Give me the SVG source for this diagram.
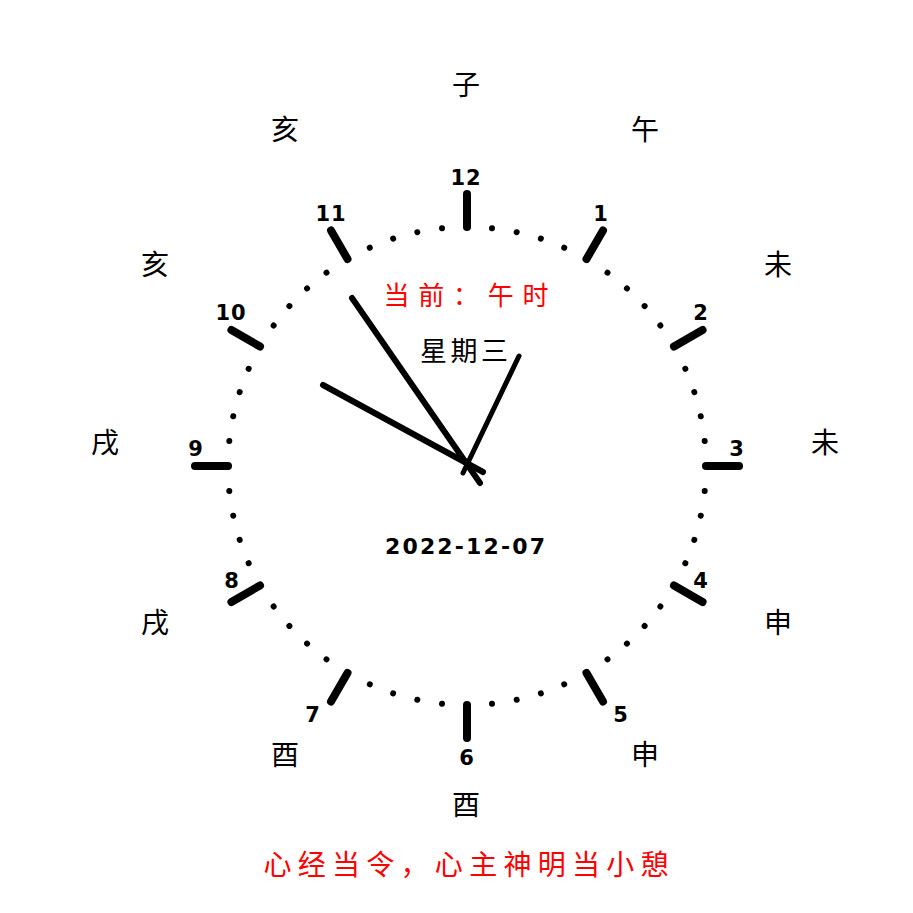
<svg xmlns="http://www.w3.org/2000/svg" width="913" height="913" viewBox="0 0 913 913">
<style>
.tick{stroke:#000;stroke-width:8;stroke-linecap:round}
.dot{fill:#000}
.num{font-family:"DejaVu Sans",sans-serif;font-weight:bold;font-size:21px;fill:#000;text-anchor:middle;letter-spacing:1px}
.br{font-family:"Noto Sans CJK SC",sans-serif;font-size:28px;fill:#000;text-anchor:middle}
.hand{stroke:#000;stroke-linecap:round}
.red{font-family:"Noto Sans CJK SC",sans-serif;fill:#ff0000;text-anchor:middle}
</style>
<rect width="913" height="913" fill="#fff"/>
<g id="dial-dots">
<circle class="dot" cx="467" cy="227" r="3" transform="rotate(6 467 466)"/>
<circle class="dot" cx="467" cy="227" r="3" transform="rotate(12 467 466)"/>
<circle class="dot" cx="467" cy="227" r="3" transform="rotate(18 467 466)"/>
<circle class="dot" cx="467" cy="227" r="3" transform="rotate(24 467 466)"/>
<circle class="dot" cx="467" cy="227" r="3" transform="rotate(36 467 466)"/>
<circle class="dot" cx="467" cy="227" r="3" transform="rotate(42 467 466)"/>
<circle class="dot" cx="467" cy="227" r="3" transform="rotate(48 467 466)"/>
<circle class="dot" cx="467" cy="227" r="3" transform="rotate(54 467 466)"/>
<circle class="dot" cx="467" cy="227" r="3" transform="rotate(66 467 466)"/>
<circle class="dot" cx="467" cy="227" r="3" transform="rotate(72 467 466)"/>
<circle class="dot" cx="467" cy="227" r="3" transform="rotate(78 467 466)"/>
<circle class="dot" cx="467" cy="227" r="3" transform="rotate(84 467 466)"/>
<circle class="dot" cx="467" cy="227" r="3" transform="rotate(96 467 466)"/>
<circle class="dot" cx="467" cy="227" r="3" transform="rotate(102 467 466)"/>
<circle class="dot" cx="467" cy="227" r="3" transform="rotate(108 467 466)"/>
<circle class="dot" cx="467" cy="227" r="3" transform="rotate(114 467 466)"/>
<circle class="dot" cx="467" cy="227" r="3" transform="rotate(126 467 466)"/>
<circle class="dot" cx="467" cy="227" r="3" transform="rotate(132 467 466)"/>
<circle class="dot" cx="467" cy="227" r="3" transform="rotate(138 467 466)"/>
<circle class="dot" cx="467" cy="227" r="3" transform="rotate(144 467 466)"/>
<circle class="dot" cx="467" cy="227" r="3" transform="rotate(156 467 466)"/>
<circle class="dot" cx="467" cy="227" r="3" transform="rotate(162 467 466)"/>
<circle class="dot" cx="467" cy="227" r="3" transform="rotate(168 467 466)"/>
<circle class="dot" cx="467" cy="227" r="3" transform="rotate(174 467 466)"/>
<circle class="dot" cx="467" cy="227" r="3" transform="rotate(186 467 466)"/>
<circle class="dot" cx="467" cy="227" r="3" transform="rotate(192 467 466)"/>
<circle class="dot" cx="467" cy="227" r="3" transform="rotate(198 467 466)"/>
<circle class="dot" cx="467" cy="227" r="3" transform="rotate(204 467 466)"/>
<circle class="dot" cx="467" cy="227" r="3" transform="rotate(216 467 466)"/>
<circle class="dot" cx="467" cy="227" r="3" transform="rotate(222 467 466)"/>
<circle class="dot" cx="467" cy="227" r="3" transform="rotate(228 467 466)"/>
<circle class="dot" cx="467" cy="227" r="3" transform="rotate(234 467 466)"/>
<circle class="dot" cx="467" cy="227" r="3" transform="rotate(246 467 466)"/>
<circle class="dot" cx="467" cy="227" r="3" transform="rotate(252 467 466)"/>
<circle class="dot" cx="467" cy="227" r="3" transform="rotate(258 467 466)"/>
<circle class="dot" cx="467" cy="227" r="3" transform="rotate(264 467 466)"/>
<circle class="dot" cx="467" cy="227" r="3" transform="rotate(276 467 466)"/>
<circle class="dot" cx="467" cy="227" r="3" transform="rotate(282 467 466)"/>
<circle class="dot" cx="467" cy="227" r="3" transform="rotate(288 467 466)"/>
<circle class="dot" cx="467" cy="227" r="3" transform="rotate(294 467 466)"/>
<circle class="dot" cx="467" cy="227" r="3" transform="rotate(306 467 466)"/>
<circle class="dot" cx="467" cy="227" r="3" transform="rotate(312 467 466)"/>
<circle class="dot" cx="467" cy="227" r="3" transform="rotate(318 467 466)"/>
<circle class="dot" cx="467" cy="227" r="3" transform="rotate(324 467 466)"/>
<circle class="dot" cx="467" cy="227" r="3" transform="rotate(336 467 466)"/>
<circle class="dot" cx="467" cy="227" r="3" transform="rotate(342 467 466)"/>
<circle class="dot" cx="467" cy="227" r="3" transform="rotate(348 467 466)"/>
<circle class="dot" cx="467" cy="227" r="3" transform="rotate(354 467 466)"/>
</g>
<g id="hour-ticks">
<line class="tick" x1="467" y1="227" x2="467" y2="194"/>
<line class="tick" x1="467" y1="227" x2="467" y2="194" transform="rotate(30 467 466)"/>
<line class="tick" x1="467" y1="227" x2="467" y2="194" transform="rotate(60 467 466)"/>
<line class="tick" x1="467" y1="227" x2="467" y2="194" transform="rotate(90 467 466)"/>
<line class="tick" x1="467" y1="227" x2="467" y2="194" transform="rotate(120 467 466)"/>
<line class="tick" x1="467" y1="227" x2="467" y2="194" transform="rotate(150 467 466)"/>
<line class="tick" x1="467" y1="227" x2="467" y2="194" transform="rotate(180 467 466)"/>
<line class="tick" x1="467" y1="227" x2="467" y2="194" transform="rotate(210 467 466)"/>
<line class="tick" x1="467" y1="227" x2="467" y2="194" transform="rotate(240 467 466)"/>
<line class="tick" x1="467" y1="227" x2="467" y2="194" transform="rotate(270 467 466)"/>
<line class="tick" x1="467" y1="227" x2="467" y2="194" transform="rotate(300 467 466)"/>
<line class="tick" x1="467" y1="227" x2="467" y2="194" transform="rotate(330 467 466)"/>
</g>
<g id="hour-numbers">
<text class="num" x="466" y="185">12</text>
<text class="num" x="601" y="221">1</text>
<text class="num" x="701" y="320">2</text>
<text class="num" x="737" y="456">3</text>
<text class="num" x="701" y="588">4</text>
<text class="num" x="621" y="722">5</text>
<text class="num" x="467" y="765">6</text>
<text class="num" x="313" y="722">7</text>
<text class="num" x="232" y="588">8</text>
<text class="num" x="196" y="456">9</text>
<text class="num" x="231" y="320">10</text>
<text class="num" x="331" y="221">11</text>
</g>
<g id="branch-labels">
<text class="br" x="466" y="95">子</text>
<text class="br" x="645" y="140">午</text>
<text class="br" x="778" y="275">未</text>
<text class="br" x="825" y="453">未</text>
<text class="br" x="778" y="633">申</text>
<text class="br" x="645" y="765">申</text>
<text class="br" x="466" y="815">酉</text>
<text class="br" x="285" y="765">酉</text>
<text class="br" x="155" y="633">戌</text>
<text class="br" x="105" y="453">戌</text>
<text class="br" x="155" y="275">亥</text>
<text class="br" x="285" y="140">亥</text>
</g>
<g id="center-texts">
<text class="red" x="466" y="305" font-size="26" textLength="165" lengthAdjust="spacing">当前：午时</text>
<text x="464" y="361" font-family="Noto Sans CJK SC, sans-serif" font-size="27" fill="#000" text-anchor="middle" textLength="88" lengthAdjust="spacing">星期三</text>
<text x="465" y="554" font-family="DejaVu Sans, sans-serif" font-weight="bold" font-size="22" fill="#000" text-anchor="middle" textLength="160" lengthAdjust="spacing">2022-12-07</text>
</g>
<g id="hands">
<line class="hand" stroke-width="6" x1="352" y1="298" x2="480" y2="483"/>
<line class="hand" stroke-width="6" x1="323" y1="385" x2="483" y2="472"/>
<line class="hand" stroke-width="5" x1="519" y1="356" x2="463" y2="473"/>
</g>
<g id="footer">
<text class="red" x="466" y="875" font-size="28" textLength="405" lengthAdjust="spacing">心经当令，心主神明当小憩</text>
</g>
</svg>
